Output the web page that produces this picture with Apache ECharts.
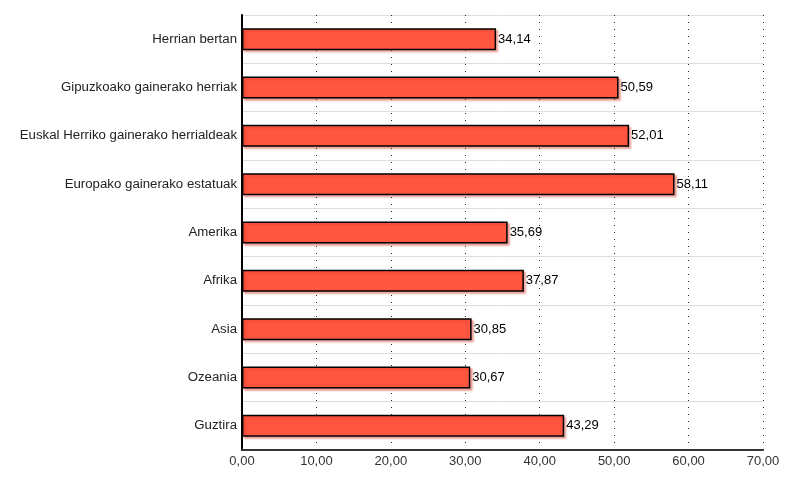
<!DOCTYPE html>
<html><head><meta charset="utf-8">
<script src="https://cdn.jsdelivr.net/npm/echarts@6/dist/echarts.min.js"></script>
<style>html,body{margin:0;padding:0;background:#fff}#c{width:800px;height:500px}</style>
</head><body><div id="c"></div>
<script>
const categories = ["Herrian bertan","Gipuzkoako gainerako herriak","Euskal Herriko gainerako herrialdeak","Europako gainerako estatuak","Amerika","Afrika","Asia","Ozeania","Guztira"];
const values = [34.14,50.59,52.01,58.11,35.69,37.87,30.85,30.67,43.29];
const fmt = v => v.toFixed(2).replace('.', ',');
const chart = echarts.init(document.getElementById('c'), null, {renderer:'canvas'});
chart.setOption({
  animation:false,
  textStyle:{fontFamily:'Liberation Sans, Arial, sans-serif'},
  grid:{left:242,right:37,top:15,bottom:50,containLabel:false},
  xAxis:{type:'value',min:0,max:70,interval:10,
    axisLine:{show:true,onZero:false,lineStyle:{color:'#333',width:2}},
    axisTick:{show:false},
    axisLabel:{color:'#333',fontSize:13,margin:5,formatter:v=>fmt(v)},
    splitLine:{show:true,lineStyle:{color:'#222',type:[1,6],width:1}}},
  yAxis:{type:'category',data:categories,inverse:true,
    axisLine:{show:true,lineStyle:{color:'#000',width:2}},
    axisTick:{show:false},
    axisLabel:{color:'#222',fontSize:13.25,margin:5},
    splitLine:{show:true,lineStyle:{color:'#ddd',width:1}}},
  series:[{type:'bar',data:values,barWidth:22,
    itemStyle:{color:'#FF5640',borderColor:'#000',borderWidth:1.5,
      shadowColor:'rgba(210,60,40,0.45)',shadowOffsetX:2,shadowOffsetY:2,shadowBlur:2},
    label:{show:true,position:'right',distance:2,color:'#000',fontSize:13,formatter:p=>fmt(p.value)}}]
});
</script></body></html>
